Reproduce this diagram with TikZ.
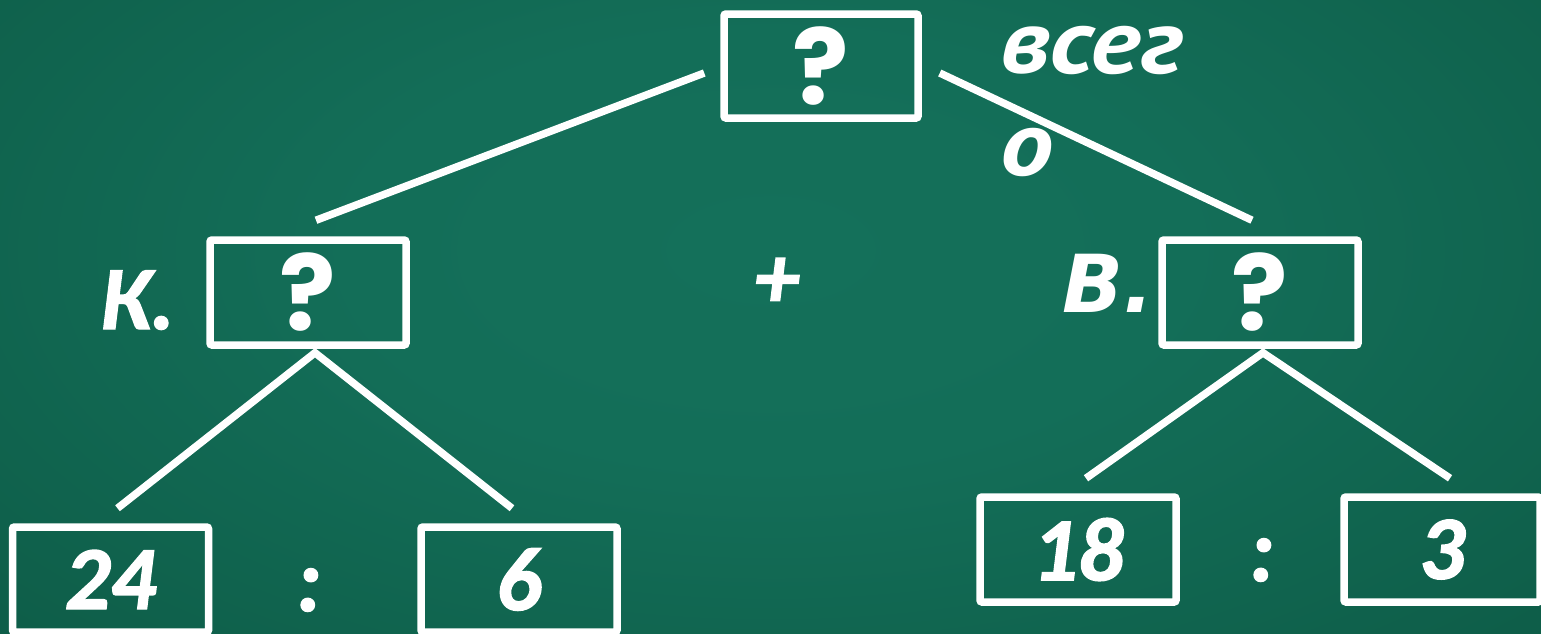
\documentclass[tikz,border=0pt]{standalone}
\usepackage{fontspec}
\setmainfont{Carlito}[BoldItalicFeatures={FakeBold=1.6}]
\newfontfamily\djfont{DejaVu Sans}
\newfontfamily\ptfont{PT Sans}[FakeStretch=1.16]
\newfontfamily\qfont{Poppins}
\definecolor{cIn}{HTML}{14705A}
\definecolor{cOut}{HTML}{074834}
\pgfdeclareradialshading{board}{\pgfpoint{0bp}{0bp}}{color(0bp)=(cIn); color(12bp)=(cIn!95!cOut); color(55bp)=(cOut); color(100bp)=(cOut)}
\begin{document}
\begin{tikzpicture}[x=1pt,y=-1pt,
  box/.style={draw=white,line width=7.5pt,rounded corners=2pt,inner sep=0pt,
    minimum width=196pt,minimum height=105pt,text=white},
  qm/.style={font=\qfont\bfseries\fontsize{105}{110}\selectfont},
  num/.style={font=\bfseries\itshape\fontsize{90}{95}\selectfont},
  lbl/.style={text=white,inner sep=0pt},
  djlbl/.style={lbl,font=\djfont\bfseries\itshape\fontsize{80}{85}\selectfont},
  ptlbl/.style={lbl,font=\ptfont\bfseries\itshape\fontsize{92}{96}\selectfont},
  cblbl/.style={lbl,font=\bfseries\itshape\fontsize{90}{95}\selectfont},
  link/.style={draw=white,line width=7.5pt}]
\useasboundingbox (0,0) rectangle (1541,633);
\shade[shading=board] (-100,-200) rectangle (1641,700);
% boxes
\node[box,qm,minimum width=194pt,minimum height=104pt] (top) at (821,66) {?};
\node[box,qm] (left) at (308,292.5) {?};
\node[box,qm] (right) at (1260,292.5) {?};
\node[box,num] (a) at (110.5,579.5) {\raisebox{-10pt}{24}};
\node[box,num] (b) at (519,579.5) {\raisebox{-10pt}{6}};
\node[box,num] (c) at (1078,549.5) {\raisebox{-10pt}{18}};
\node[box,num] (d) at (1442,549.5) {\raisebox{-10pt}{3}};
% connectors
\draw[link] ([shift={(-16,7)}]top.west) -- ([shift={(8,-16)}]left.north);
\draw[link] ([shift={(18,7)}]top.east) -- ([shift={(-8,-16)}]right.north);
\draw[link] ([shift={(7,-15)}]a.north) -- ([shift={(7,4)}]left.south) -- ([shift={(-7,-15)}]b.north);
\draw[link] ([shift={(8,-15)}]c.north) -- ([shift={(3,4)}]right.south) -- ([shift={(8,-15)}]d.north);
% labels
\node[ptlbl,anchor=base west] (vseg) at (1000,73) {всег};
\node[ptlbl,anchor=base west] (vsego) at (1000,175) {о};
\node[djlbl,anchor=base west] (vlab) at (1062,312) {В.};
\node[cblbl,anchor=base west] (klab) at (100,329) {К.};
\node[cblbl] (plus) at (777,283) {+};
\node[cblbl] (d1) at (309,590) {:};
\node[cblbl] (d2) at (1262,560) {:};
\end{tikzpicture}
\end{document}
